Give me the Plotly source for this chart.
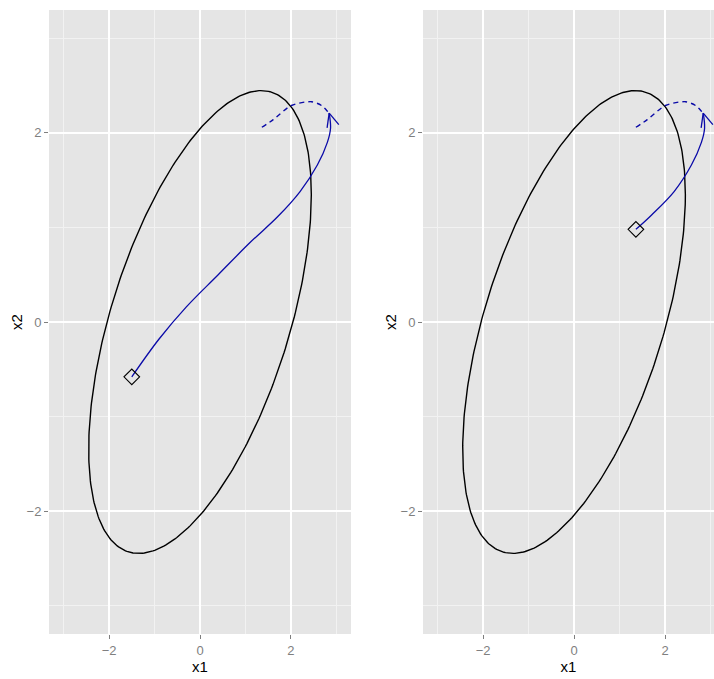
import numpy as np
import plotly.graph_objects as go

# ---------------- data ----------------
# confidence ellipse parameters (centre, correlation, chi-square 95% level, 2 df)
ell_center = [0.0, 0.0]
ell_sd = [1.0, 1.0]
ell_rho = 0.55
ell_level = 5.991

# solid blue path, left panel (x1, x2)
left_path_x1 = [-1.50, -0.90, -0.30, 0.40, 1.10, 1.70, 2.20, 2.58, 2.80, 2.87, 2.84]
left_path_x2 = [-0.58, -0.18, 0.16, 0.50, 0.84, 1.11, 1.38, 1.66, 1.90, 2.05, 2.21]

# solid blue path, right panel
right_path_x1 = [1.36, 1.70, 2.20, 2.58, 2.80, 2.87, 2.84]
right_path_x2 = [0.98, 1.13, 1.38, 1.66, 1.90, 2.05, 2.21]

# dashed blue path (both panels)
dash_x1 = [1.36, 1.61, 2.01, 2.45, 2.67, 2.80, 2.84]
dash_x2 = [2.06, 2.14, 2.29, 2.33, 2.29, 2.23, 2.21]

# start points (diamonds)
start_left = [-1.50, -0.58]
start_right = [1.36, 0.98]

tick_vals = [-2, 0, 2]
tick_text = ["\u22122", "0", "2"]
minor_vals = [-3, -1, 1, 3]

# ---------------- layout constants ----------------
W, H = 714, 679
ML, MR, MT, MB = 49, 0, 10, 45
PW, PH = W - ML - MR, H - MT - MB
X_RANGE_L = [-3.32, 3.32]
X_RANGE_R = [-3.32, 3.077]
Y_RANGE = [-3.30, 3.30]
DOM_L = [0, 302 / PW]
DOM_R = [374 / PW, 1]

BLUE = "#0A0AA8"
FONT = "Liberation Sans Narrow, Liberation Sans, Arial, sans-serif"

# ellipse from parameters
t = np.linspace(0, 2 * np.pi, 361)
cov = np.array([[ell_sd[0] ** 2, ell_rho * ell_sd[0] * ell_sd[1]],
                [ell_rho * ell_sd[0] * ell_sd[1], ell_sd[1] ** 2]])
L = np.linalg.cholesky(cov)
circ = np.vstack([np.cos(t), np.sin(t)]) * np.sqrt(ell_level)
ell = L @ circ
ell_x = ell[0] + ell_center[0]
ell_y = ell[1] + ell_center[1]

# pixel scales for arrow barbs
sx = (DOM_L[1] - DOM_L[0]) * PW / (X_RANGE_L[1] - X_RANGE_L[0])
sy = PH / (Y_RANGE[1] - Y_RANGE[0])
BARB_LEN = 15
barb_angles = [np.deg2rad(40), np.deg2rad(-8)]  # measured from straight down, toward right


def arrow_barbs(tipx, tipy):
    xs, ys = [], []
    for a in barb_angles:
        dxp = np.sin(a) * BARB_LEN
        dyp = np.cos(a) * BARB_LEN
        xs += [tipx + dxp / sx, tipx, None]
        ys += [tipy - dyp / sy, tipy, None]
    return xs, ys


fig = go.Figure()

for xa, ya, px, py, st in [("x", "y", left_path_x1, left_path_x2, start_left),
                           ("x2", "y2", right_path_x1, right_path_x2, start_right)]:
    fig.add_trace(go.Scatter(x=ell_x, y=ell_y, mode="lines",
                             line=dict(color="black", width=1.4),
                             xaxis=xa, yaxis=ya, hoverinfo="skip"))
    fig.add_trace(go.Scatter(x=dash_x1, y=dash_x2, mode="lines",
                             line=dict(color=BLUE, width=1.4, dash="5px,4px",
                                       shape="spline", smoothing=0.8),
                             xaxis=xa, yaxis=ya, hoverinfo="skip"))
    fig.add_trace(go.Scatter(x=px, y=py, mode="lines",
                             line=dict(color=BLUE, width=1.3, shape="spline", smoothing=1.0),
                             xaxis=xa, yaxis=ya, hoverinfo="skip"))
    bx, by = arrow_barbs(px[-1], py[-1])
    fig.add_trace(go.Scatter(x=bx, y=by, mode="lines",
                             line=dict(color=BLUE, width=1.3),
                             xaxis=xa, yaxis=ya, hoverinfo="skip"))
    fig.add_trace(go.Scatter(x=[st[0]], y=[st[1]], mode="markers",
                             marker=dict(symbol="diamond-open", size=12,
                                         color="black", line=dict(width=1.1, color="black")),
                             xaxis=xa, yaxis=ya, hoverinfo="skip"))

axis_common = dict(
    showgrid=True, gridcolor="white", gridwidth=1.8,
    zeroline=False, showline=False, automargin=False,
    tickmode="array", tickvals=tick_vals, ticktext=tick_text,
    ticks="outside", ticklen=4, tickcolor="#7F7F7F", tickwidth=1,
    tickfont=dict(family=FONT, size=13, color="#7F7F7F"),
    minor=dict(tickvals=minor_vals, showgrid=True, gridcolor="#F2F2F2",
               gridwidth=0.9, ticks=""),
    fixedrange=True,
)
title_font = dict(family=FONT, size=15, color="black")

fig.update_layout(
    width=W, height=H,
    margin=dict(l=ML, r=MR, t=MT, b=MB),
    paper_bgcolor="white", plot_bgcolor="#E5E5E5",
    showlegend=False,
    xaxis=dict(domain=DOM_L, range=X_RANGE_L, anchor="y",
               title=dict(text="x1", font=title_font, standoff=4), **axis_common),
    yaxis=dict(domain=[0, 1], range=Y_RANGE, anchor="x",
               title=dict(text="x2", font=title_font, standoff=0), **axis_common),
    xaxis2=dict(domain=DOM_R, range=X_RANGE_R, anchor="y2",
                title=dict(text="x1", font=title_font, standoff=4), **axis_common),
    yaxis2=dict(domain=[0, 1], range=Y_RANGE, anchor="x2",
                title=dict(text="x2", font=title_font, standoff=0), **axis_common),
)

fig.write_html("out.html", config={"responsive": False, "displayModeBar": False},
               post_script="document.body.style.margin='0px';document.body.style.overflow='hidden';")
